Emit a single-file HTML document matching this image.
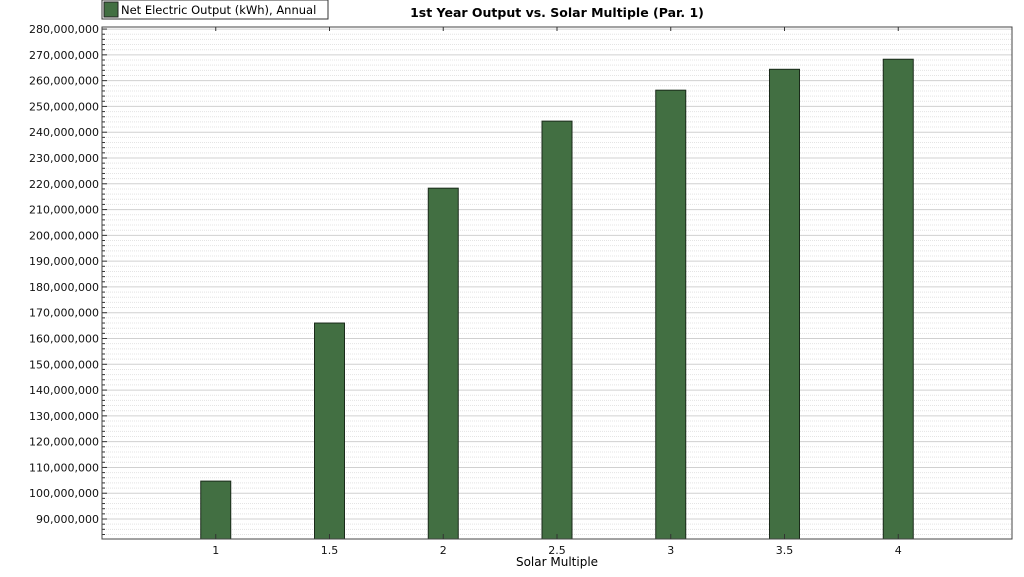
<!DOCTYPE html>
<html><head><meta charset="utf-8"><style>
body{margin:0;background:#fff;width:1024px;height:573px;overflow:hidden;font-family:"DejaVu Sans","Liberation Sans",sans-serif}
</style></head><body>
<svg id="c" width="1024" height="573" xmlns="http://www.w3.org/2000/svg">
<rect x="102" y="0" width="226" height="19" fill="#fff" stroke="#333"/>
<rect x="104" y="2" width="14" height="15" fill="#426f42" stroke="#222"/>
<text x="121" y="14" font-size="11.5" fill="#000">Net Electric Output (kWh), Annual</text>
<text x="557" y="17" font-size="12.5" font-weight="bold" text-anchor="middle">1st Year Output vs. Solar Multiple (Par. 1)</text>
<g id="grid"></g><g id="bars"></g><g id="axes"></g>
<text x="557" y="566" font-size="12" text-anchor="middle">Solar Multiple</text>
</svg>
<script>
const categories=["1","1.5","2","2.5","3","3.5","4"];
const catValues=[1,1.5,2,2.5,3,3.5,4];
const outputs=[104.7e6,166.0e6,218.3e6,244.3e6,256.3e6,264.4e6,268.3e6];
const yTicks=[90e6,100e6,110e6,120e6,130e6,140e6,150e6,160e6,170e6,180e6,190e6,200e6,210e6,220e6,230e6,240e6,250e6,260e6,270e6,280e6];
const L=102,R=1012,T=27,B=539,yMin=82.25e6,yMax=280.8e6,xMin=0.5,xMax=4.5;
const ns="http://www.w3.org/2000/svg";
const X=v=>L+(v-xMin)/(xMax-xMin)*(R-L);
const Y=v=>B-(v-yMin)/(yMax-yMin)*(B-T);
function mk(t,a,p){const e=document.createElementNS(ns,t);for(const k in a)e.setAttribute(k,a[k]);p.appendChild(e);return e;}
const g=document.getElementById('grid'),bg=document.getElementById('bars'),ax=document.getElementById('axes');
for(let v=yMin-yMin%2e6+2e6;v<yMax;v+=2e6){
 const major=Math.abs(v%10e6)<1;
 const l=mk('line',{x1:L,x2:R,y1:Y(v),y2:Y(v),stroke:major?'#d0d0d0':'#e4e4e4','stroke-dasharray':major?'':'1,1'},g);
 
 
 if(!major){const m=mk('line',{x1:L,x2:L+3,y1:Y(v),y2:Y(v),stroke:'#333'},ax);
 
 }
}
outputs.forEach((v,i)=>{
 const r=mk('rect',{x:X(catValues[i])-15,y:Y(v),width:30,height:B-Y(v),fill:'#426f42',stroke:'#1a2a1a'},bg);
 
 
});
const frame=mk('rect',{x:L,y:T,width:R-L,height:B-T,fill:'none',stroke:'#444'},ax);


yTicks.forEach(v=>{
 const t=mk('line',{x1:L,x2:L+5,y1:Y(v),y2:Y(v),stroke:'#333'},ax);
 
 
 const tx=mk('text',{x:L-3,y:Y(v)+4,'font-size':'11','text-anchor':'end',fill:'#111'},ax);
 tx.textContent=v.toLocaleString('en-US');
 
 
});
categories.forEach((c,i)=>{
 const x=X(catValues[i]);
 const t=mk('line',{x1:x,x2:x,y1:B,y2:B-5,stroke:'#333'},ax);
 
 
 const t2=mk('line',{x1:x,x2:x,y1:T,y2:T+4,stroke:'#333'},ax);
 
 
 const tx=mk('text',{x:x,y:B+15,'font-size':'11','text-anchor':'middle',fill:'#111'},ax);
 tx.textContent=c;
 
 
});
</script>
</body></html>
